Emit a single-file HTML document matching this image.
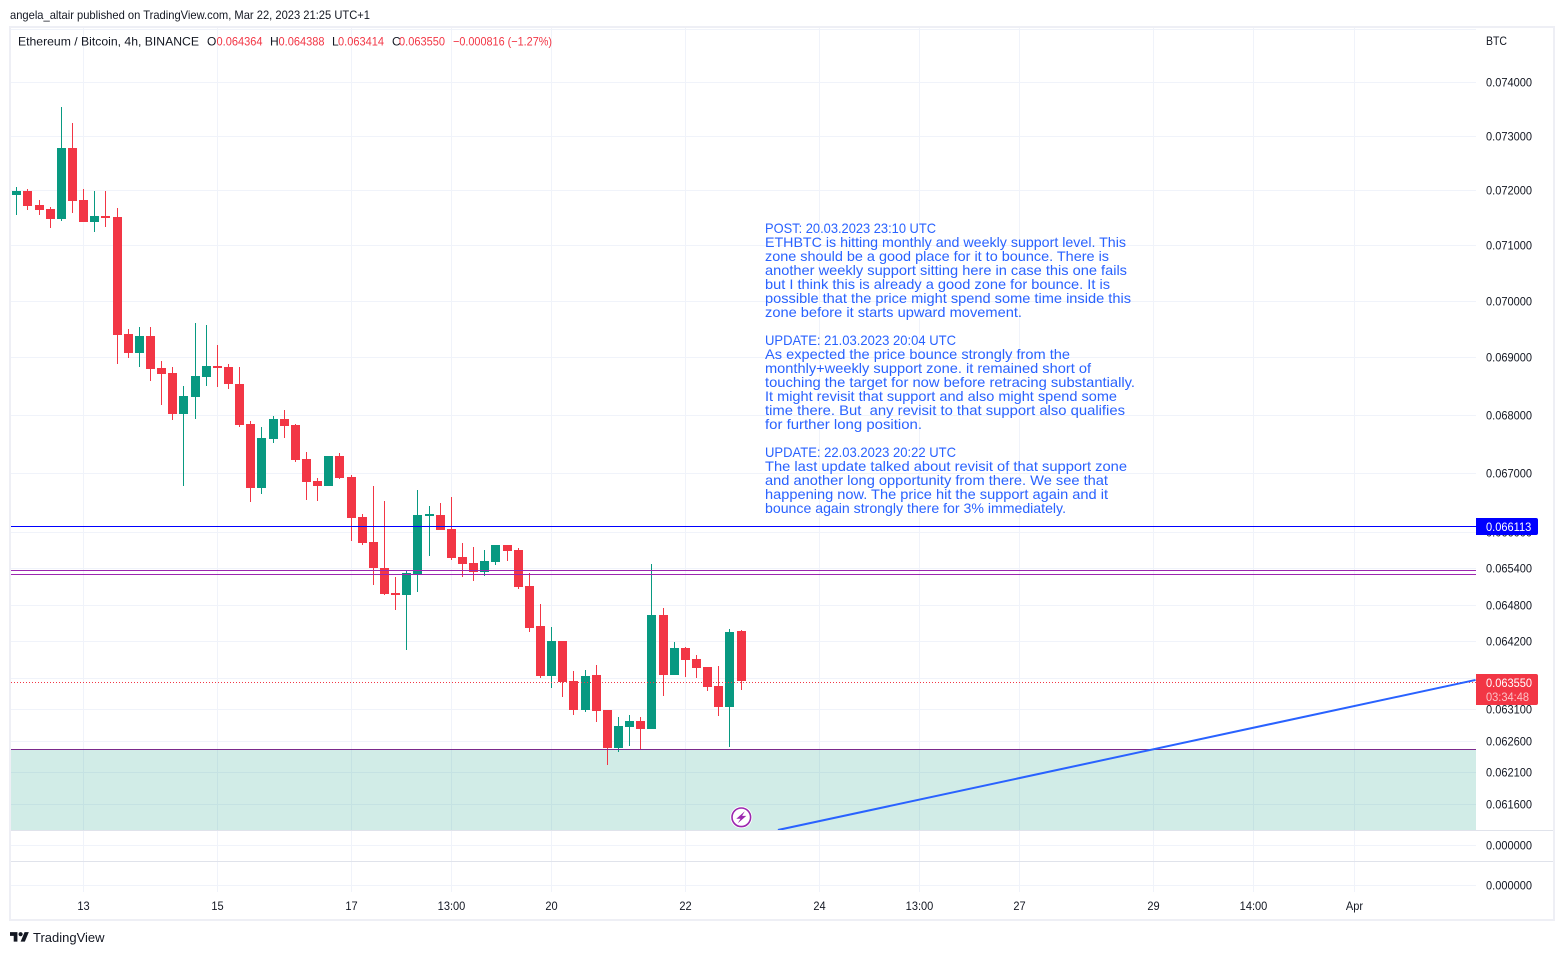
<!DOCTYPE html>
<html lang="en">
<head>
<meta charset="utf-8">
<title>ETHBTC 4h chart</title>
<style>
html,body{margin:0;padding:0;background:#fff;width:1564px;height:955px;overflow:hidden}
svg{display:block;font-family:"Liberation Sans",sans-serif}
text{fill:#131722}
.ann{fill:#2962ff;font-size:14px}
.red{fill:#f23645}
</style>
</head>
<body>
<svg id="chart" width="1564" height="955" viewBox="0 0 1564 955" xmlns="http://www.w3.org/2000/svg">
  <defs><clipPath id="pane-clip"><rect x="11" y="28" width="1465" height="802"/></clipPath></defs>
  <rect x="0" y="0" width="1564" height="955" fill="#fff"/>
  <text x="10" y="19" font-size="12" textLength="360" lengthAdjust="spacingAndGlyphs">angela_altair published on TradingView.com, Mar 22, 2023 21:25 UTC+1</text>

  <g id="grid" shape-rendering="crispEdges"></g>
  <g id="overlays" clip-path="url(#pane-clip)"></g>
  <g id="candles" shape-rendering="crispEdges"></g>
  <g id="levels" shape-rendering="crispEdges"></g>
  <g id="trend" clip-path="url(#pane-clip)"></g>

  <rect x="10" y="27" width="1544" height="893" fill="none" stroke="#eeeff5" stroke-width="2" shape-rendering="crispEdges"/>
  <line x1="11" x2="1553" y1="830.5" y2="830.5" stroke="#e0e3eb" shape-rendering="crispEdges"/>
  <line x1="11" x2="1553" y1="861.5" y2="861.5" stroke="#e0e3eb" shape-rendering="crispEdges"/>

  <g font-size="12">
    <text x="18" y="45.5" textLength="181" lengthAdjust="spacingAndGlyphs">Ethereum / Bitcoin, 4h, BINANCE</text>
    <text x="207" y="45.5">O</text>
    <text class="red" x="216.5" y="45.5" textLength="46" lengthAdjust="spacingAndGlyphs">0.064364</text>
    <text x="270" y="45.5">H</text>
    <text class="red" x="278.5" y="45.5" textLength="46" lengthAdjust="spacingAndGlyphs">0.064388</text>
    <text x="332" y="45.5">L</text>
    <text class="red" x="338" y="45.5" textLength="46" lengthAdjust="spacingAndGlyphs">0.063414</text>
    <text x="392" y="45.5">C</text>
    <text class="red" x="399" y="45.5" textLength="46" lengthAdjust="spacingAndGlyphs">0.063550</text>
    <text class="red" x="453" y="45.5" textLength="99" lengthAdjust="spacingAndGlyphs">−0.000816 (−1.27%)</text>
  </g>

  <g>
    <text class="ann" x="765" y="233" textLength="171" lengthAdjust="spacingAndGlyphs">POST: 20.03.2023 23:10 UTC</text>
    <text class="ann" x="765" y="247" textLength="361" lengthAdjust="spacingAndGlyphs">ETHBTC is hitting monthly and weekly support level. This</text>
    <text class="ann" x="765" y="261" textLength="344" lengthAdjust="spacingAndGlyphs">zone should be a good place for it to bounce. There is</text>
    <text class="ann" x="765" y="275" textLength="362" lengthAdjust="spacingAndGlyphs">another weekly support sitting here in case this one fails</text>
    <text class="ann" x="765" y="289" textLength="345" lengthAdjust="spacingAndGlyphs">but I think this is already a good zone for bounce. It is</text>
    <text class="ann" x="765" y="303" textLength="366" lengthAdjust="spacingAndGlyphs">possible that the price might spend some time inside this</text>
    <text class="ann" x="765" y="317" textLength="257" lengthAdjust="spacingAndGlyphs">zone before it starts upward movement.</text>
    <text class="ann" x="765" y="345" textLength="191" lengthAdjust="spacingAndGlyphs">UPDATE: 21.03.2023 20:04 UTC</text>
    <text class="ann" x="765" y="359" textLength="305" lengthAdjust="spacingAndGlyphs">As expected the price bounce strongly from the</text>
    <text class="ann" x="765" y="373" textLength="326" lengthAdjust="spacingAndGlyphs">monthly+weekly support zone. it remained short of</text>
    <text class="ann" x="765" y="387" textLength="370" lengthAdjust="spacingAndGlyphs">touching the target for now before retracing substantially.</text>
    <text class="ann" x="765" y="401" textLength="352" lengthAdjust="spacingAndGlyphs">It might revisit that support and also might spend some</text>
    <text class="ann" x="765" y="415" textLength="360" lengthAdjust="spacingAndGlyphs" xml:space="preserve">time there. But  any revisit to that support also qualifies</text>
    <text class="ann" x="765" y="429" textLength="157" lengthAdjust="spacingAndGlyphs">for further long position.</text>
    <text class="ann" x="765" y="457" textLength="191" lengthAdjust="spacingAndGlyphs">UPDATE: 22.03.2023 20:22 UTC</text>
    <text class="ann" x="765" y="471" textLength="362" lengthAdjust="spacingAndGlyphs">The last update talked about revisit of that support zone</text>
    <text class="ann" x="765" y="485" textLength="343" lengthAdjust="spacingAndGlyphs">and another long opportunity from there. We see that</text>
    <text class="ann" x="765" y="499" textLength="343" lengthAdjust="spacingAndGlyphs">happening now. The price hit the support again and it</text>
    <text class="ann" x="765" y="513" textLength="301" lengthAdjust="spacingAndGlyphs">bounce again strongly there for 3% immediately.</text>
  </g>

  <g transform="translate(741.3,817.3)">
    <circle r="11" fill="#fff"/>
    <circle r="9.3" fill="#fff" stroke="#9c27b0" stroke-width="1.6"/>
    <polygon points="3.5,-6 -5,1.4 -0.8,1.4 -3.5,6 5,-1.4 0.8,-1.4" fill="#9c27b0"/>
  </g>

  <g id="price-axis" font-size="12"></g>
  <g id="time-axis" font-size="12"></g>
  <text x="1486" y="45" font-size="12" textLength="21" lengthAdjust="spacingAndGlyphs">BTC</text>
  <text x="1486" y="849.5" font-size="12" textLength="46" lengthAdjust="spacingAndGlyphs">0.000000</text>
  <text x="1486" y="889.5" font-size="12" textLength="46" lengthAdjust="spacingAndGlyphs">0.000000</text>

  <g id="tags"></g>

  <g>
    <path transform="translate(10,930) scale(.53)" fill="#131722" d="M14 22H7V11H0V4h14v18zM28 22h-8l7.5-18h8L28 22z"/>
    <circle cx="20.6" cy="934.2" r="2.1" fill="#131722"/>
    <text x="33" y="942" font-size="13">TradingView</text>
  </g>
</svg>

<script>
const opens = [.071905,.071979,.071725,.071652,.071471,.072769,.071815,.071417,.071525,.071507,.069412,.069078,.069377,.068817,.068730,.068017,.068310,.068660,.068852,.068834,.068538,.067845,.066750,.067587,.067931,.067828,.067243,.066869,.066784,.067294,.066937,.066260,.065840,.065407,.064992,.064959,.065308,.066277,.066294,.066059,.065590,.065490,.065341,.065507,.065790,.065706,.065108,.064451,.063637,.064205,.063556,.063090,.063653,.063090,.062482,.062818,.062914,.062786,.064631,.063653,.064090,.063912,.063783,.063475,.063138,.064364];
const highs = [.072052,.072015,.071815,.071688,.073532,.073234,.072015,.071979,.071979,.071670,.069501,.069536,.069536,.068939,.068834,.068503,.069607,.069571,.069218,.068886,.068834,.067897,.067794,.067983,.068086,.067845,.067362,.066920,.067294,.067345,.066971,.066311,.066784,.066529,.065258,.065374,.066716,.066445,.066496,.066596,.065824,.065756,.065706,.065790,.065790,.065739,.065324,.064811,.064434,.064205,.063718,.063734,.063815,.063090,.062978,.063010,.062978,.065474,.064746,.064188,.064106,.063977,.063783,.063799,.064401,.064388];
const lows = [.071543,.071634,.071543,.071308,.071435,.071580,.071417,.071236,.071326,.068886,.068991,.068834,.068591,.068172,.067914,.066784,.067931,.068503,.068486,.068451,.067794,.066512,.066648,.067518,.067604,.067192,.066546,.066529,.066784,.066903,.065857,.065790,.065125,.064959,.064713,.064058,.065009,.065606,.066042,.065540,.065258,.065191,.065274,.065457,.065523,.065059,.064352,.063604,.063442,.063297,.063010,.063058,.062898,.062215,.062420,.062514,.062452,.062786,.063313,.063653,.063621,.063604,.063394,.062994,.062498,.063414];
const closes = [.071979,.071706,.071634,.071471,.072769,.071797,.071417,.071525,.071489,.069395,.069078,.069377,.068799,.068713,.068017,.068328,.068678,.068852,.068817,.068538,.067828,.066750,.067604,.067931,.067811,.067226,.066852,.066784,.067294,.066920,.066244,.065824,.065407,.064976,.064959,.065324,.066294,.066311,.066042,.065573,.065474,.065341,.065523,.065790,.065689,.065092,.064418,.063637,.064205,.063540,.063090,.063637,.063074,.062482,.062834,.062914,.062786,.064631,.063653,.064090,.063896,.063766,.063459,.063138,.064352,.063550];

const priceTicks = [0.074,0.073,0.072,0.071,0.07,0.069,0.068,0.067,0.066,0.0654,0.0648,0.0642,0.0636,0.0631,0.0626,0.0621,0.0616];
const unlabeledPriceTicks = [0.075];
const timeTickBars = [6,18,30,39,48,60,72,81,90,102,111,120];
const timeTickLabels = ['13','15','17','13:00','20','22','24','13:00','27','29','14:00','Apr'];

const lastPrice = 0.06355;
const lastPriceLabel = '0.063550';
const countdownLabel = '03:34:48';
const blueLevel = 0.066113;
const blueLevelLabel = '0.066113';
const purpleLevels = [0.065370,0.065308];
const zoneTop = 0.062463;
const zoneBottom = 0.0600;
const trendBars = [68.3,130.9];
const trendPrices = [0.061195,0.063573];

const NS = 'http://www.w3.org/2000/svg';
function xAt(bar){ return 16.71 + 11.145 * bar; }
function yAt(price){ return 82 + Math.log(0.074 / price) * 3937; }
function mk(tag, parent, attrs){
  const el = document.createElementNS(NS, tag);
  for (const k in attrs) el.setAttribute(k, attrs[k]);
  parent.appendChild(el);
  return el;
}
function condense(t){
  t.setAttribute('textLength', (t.getComputedTextLength() * 0.92).toFixed(2));
  t.setAttribute('lengthAdjust', 'spacingAndGlyphs');
}

const grid = document.getElementById('grid');
const priceAxis = document.getElementById('price-axis');
const timeAxis = document.getElementById('time-axis');
const GRID = '#f0f3fa';

timeTickBars.forEach(function(bar, i){
  const x = Math.floor(xAt(bar)) + 0.5;
  const v = mk('line', grid, {x1:x, x2:x, y1:28, y2:892, stroke:GRID});
  
  
  const t = mk('text', timeAxis, {x:x, y:910, 'text-anchor':'middle'});
  t.textContent = timeTickLabels[i];
  
  
  condense(t);
});
unlabeledPriceTicks.forEach(function(p){
  const y = Math.round(yAt(p)) + 0.5;
  const h = mk('line', grid, {x1:11, x2:1476, y1:y, y2:y, stroke:GRID});
  
  
});
priceTicks.forEach(function(p){
  const y = Math.round(yAt(p)) + 0.5;
  const h = mk('line', grid, {x1:11, x2:1476, y1:y, y2:y, stroke:GRID});
  
  
  const t = mk('text', priceAxis, {x:1486, y:y + 4});
  t.textContent = p.toFixed(6);
  
  
  condense(t);
});
[845, 885].forEach(function(yy){
  const h = mk('line', grid, {x1:11, x2:1476, y1:yy + 0.5, y2:yy + 0.5, stroke:GRID});
  
  
});

const overlays = document.getElementById('overlays');
const zTop = yAt(zoneTop);
const zone = mk('rect', overlays, {x:11, y:zTop, width:1465, height:yAt(zoneBottom) - zTop, fill:'#089981', 'fill-opacity':0.19});



const candles = document.getElementById('candles');
opens.forEach(function(o, i){
  const c = closes[i];
  const color = c >= o ? '#089981' : '#f23645';
  const cx = Math.floor(xAt(i));
  const yH = Math.round(yAt(highs[i]));
  const yL = Math.round(yAt(lows[i]));
  const yT = Math.round(yAt(Math.max(o, c)));
  const yB = Math.round(yAt(Math.min(o, c)));
  const wick = mk('rect', candles, {x:cx, y:yH, width:1, height:Math.max(1, yL - yH), fill:color});
  
  
  const body = mk('rect', candles, {x:cx - 4, y:yT, width:9, height:Math.max(1, yB - yT), fill:color});
  
  
});

const levels = document.getElementById('levels');
const lastY = Math.ceil(yAt(lastPrice)) + 0.5;
const lastLine = mk('line', levels, {x1:11, x2:1476, y1:lastY, y2:lastY, stroke:'#f23645', 'stroke-dasharray':'1 2'});


const blueY = Math.round(yAt(blueLevel)) + 0.5;
const blueLine = mk('line', levels, {x1:11, x2:1476, y1:blueY, y2:blueY, stroke:'#0000ff'});


purpleLevels.forEach(function(p){
  const y = Math.round(yAt(p)) + 0.5;
  const l = mk('line', levels, {x1:11, x2:1476, y1:y, y2:y, stroke:'#9c27b0'});
  
  
});
const zoneLineY = Math.round(zTop) + 0.5;
const zoneLine = mk('line', levels, {x1:11, x2:1476, y1:zoneLineY, y2:zoneLineY, stroke:'#7b2a8c'});



const trend = document.getElementById('trend');
const trendLine = mk('line', trend, {x1:xAt(trendBars[0]), y1:yAt(trendPrices[0]), x2:xAt(trendBars[1]), y2:yAt(trendPrices[1]), stroke:'#2962ff', 'stroke-width':2});



const tags = document.getElementById('tags');
const blueTag = mk('path', tags, {d:'M1476 518H1536a2 2 0 0 1 2 2V533a2 2 0 0 1 -2 2H1476Z', fill:'#0000ff'});


const blueText = mk('text', tags, {x:1486, y:531, 'font-size':12, style:'fill:#fff'});
blueText.textContent = blueLevelLabel;


condense(blueText);
const redTag = mk('path', tags, {d:'M1476 674H1536a2 2 0 0 1 2 2V703a2 2 0 0 1 -2 2H1476Z', fill:'#f23645'});


const redText = mk('text', tags, {x:1486, y:687, 'font-size':12, style:'fill:#fff'});
redText.textContent = lastPriceLabel;


condense(redText);
const cdText = mk('text', tags, {x:1486, y:701, 'font-size':12, style:'fill:#fff;fill-opacity:.7'});
cdText.textContent = countdownLabel;


condense(cdText);
</script>
</body>
</html>
